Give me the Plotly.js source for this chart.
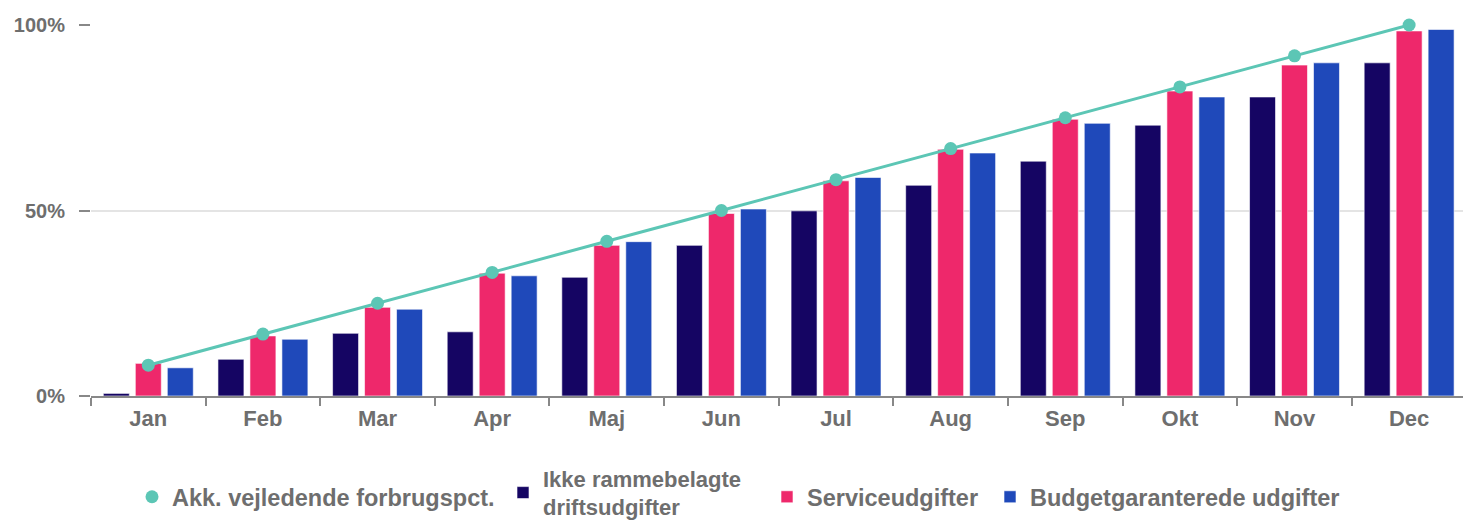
<!DOCTYPE html>
<html>
<head>
<meta charset="utf-8">
<script src="https://cdn.plot.ly/plotly-3.0.1.min.js"></script>
<style>html,body{margin:0;padding:0;background:#fff;overflow:hidden}</style>
</head>
<body>
<div id="chart" style="width:1463px;height:521px"></div>
<script>
const months = ["Jan","Feb","Mar","Apr","Maj","Jun","Jul","Aug","Sep","Okt","Nov","Dec"];
const akk = [8.3, 16.7, 25.0, 33.3, 41.7, 50.0, 58.3, 66.7, 75.0, 83.3, 91.7, 100.0];
const ikkeRamme = [0.7, 9.9, 16.9, 17.3, 32.0, 40.6, 49.9, 56.8, 63.3, 73.0, 80.6, 89.8];
const service = [8.8, 16.2, 23.9, 33.1, 40.6, 49.2, 58.0, 66.5, 74.6, 82.2, 89.2, 98.4];
const budget = [7.6, 15.3, 23.4, 32.4, 41.6, 50.4, 58.9, 65.5, 73.5, 80.6, 89.8, 98.8];
const names = ["Akk. vejledende forbrugspct.", "Ikke rammebelagte<br>driftsudgifter", "Serviceudgifter", "Budgetgaranterede udgifter"];
const colors = ["#5cc6b5", "#150563", "#ee286b", "#1f49ba"];

const font = "Liberation Sans, Arial, sans-serif";
const grey = "#6e6e6e";
const barLine = {color:"rgba(255,255,255,0.6)", width:1};

const traces = [
  {type:"bar", name:names[1], x:months, y:ikkeRamme, marker:{color:colors[1], line:barLine}, legend:"legend2"},
  {type:"bar", name:names[2], x:months, y:service, marker:{color:colors[2], line:barLine}, legend:"legend3"},
  {type:"bar", name:names[3], x:months, y:budget, marker:{color:colors[3], line:barLine}, legend:"legend4"},
  {type:"scatter", mode:"lines", name:names[0], x:months, y:akk, line:{color:colors[0], width:3}, showlegend:false, cliponaxis:false},
  {type:"scatter", mode:"markers", name:names[0], x:months, y:akk, marker:{color:colors[0], size:13}, cliponaxis:false, legend:"legend"}
];

function leg(xpx, ypx, size) {
  return {orientation:"h", x:xpx/1463, xref:"container", xanchor:"left", y:(521-ypx)/521, yref:"container", yanchor:"middle",
          font:{family:font, size:size, color:grey, weight:"bold"}, valign:"middle", bgcolor:"rgba(0,0,0,0)"};
}

const layout = {
  width:1463, height:521,
  margin:{l:91, r:0, t:25, b:125},
  paper_bgcolor:"#fff", plot_bgcolor:"#fff",
  barmode:"group", bargap:0.163, bargroupgap:0.1875,
  font:{family:font, color:grey},
  xaxis:{type:"category", range:[-0.5, 11.47], tickson:"boundaries", ticks:"outside", ticklen:8, tickwidth:2, tickcolor:"#888",
         showline:true, linecolor:"#888", linewidth:2, showgrid:false, ticklabelstandoff:2,
         tickfont:{family:font, size:22, color:grey, weight:"bold"}, fixedrange:true},
  yaxis:{range:[0,100], tickvals:[0,50,100], ticktext:["0%","50%","100%"], ticks:"outside", ticklen:11, tickwidth:2, tickcolor:"#888",
         showgrid:true, gridcolor:"#e4e4e4", gridwidth:2, zeroline:false, showline:false, ticklabelstandoff:10,
         tickfont:{family:font, size:20, color:grey, weight:"bold"}, fixedrange:true},
  legend: leg(132, 497, 23.5),
  legend2: leg(503, 493, 22),
  legend3: leg(767, 497, 23.5),
  legend4: leg(990, 497, 23.5),
  showlegend:true
};
Plotly.newPlot("chart", traces, layout, {displayModeBar:false, staticPlot:true});
</script>
</body>
</html>
